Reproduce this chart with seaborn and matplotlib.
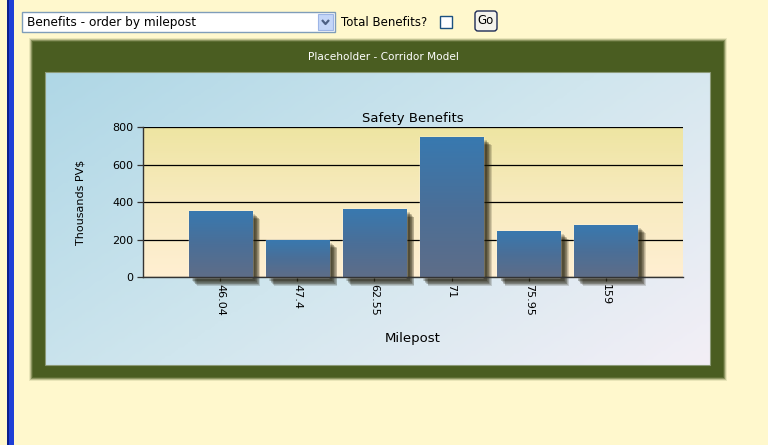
import matplotlib
matplotlib.use("Agg")
import matplotlib.pyplot as plt
import matplotlib.patheffects as pe
from matplotlib.colors import LinearSegmentedColormap
from matplotlib.patches import Rectangle, FancyBboxPatch
import seaborn as sns
import numpy as np
import pandas as pd

# data
mileposts = ["46.04", "47.4", "62.55", "71", "75.95", "159"]
benefits = [355, 200, 365, 750, 247, 280]
y_ticks = [0, 200, 400, 600, 800]

sns.set_style("white")
plt.rcParams["font.family"] = ["DejaVu Sans"]

W, H = 768, 445
fig = plt.figure(figsize=(W / 100, H / 100), dpi=100)
fig.patch.set_facecolor("#FFF8CD")

# page layer in pixel coordinates
bg = fig.add_axes([0, 0, 1, 1], zorder=0)
bg.set_xlim(0, W)
bg.set_ylim(H, 0)
bg.axis("off")

# left blue bar
bg.add_patch(Rectangle((7, 0), 7, H, color="#1E3FD6", lw=0))
bg.add_patch(Rectangle((7, 0), 1.5, H, color="#0A1E8C", lw=0))

# dropdown
bg.add_patch(Rectangle((22, 12), 313, 20, facecolor="white", edgecolor="#7F9DB9", lw=1))
bg.add_patch(Rectangle((318, 14), 15, 16, facecolor="#C4D6F8", edgecolor="#9DB5E6", lw=0.8))
bg.plot([322, 325.5, 329], [20, 24, 20], color="#4D6185", lw=1.6, solid_capstyle="butt")
bg.text(27, 22.5, "Benefits - order by milepost", fontsize=8.7, va="center", ha="left", color="black")
bg.text(341, 23, "Total Benefits?", fontsize=8.5, va="center", ha="left", color="black")
bg.add_patch(Rectangle((440, 16), 12, 12, facecolor="white", edgecolor="#1C5180", lw=1))
bg.add_patch(FancyBboxPatch((475, 11), 22, 20, boxstyle="round,pad=0,rounding_size=3",
                            facecolor="#F4F3EC", edgecolor="#1D2A55", lw=1))
bg.text(486, 20.5, "Go", fontsize=8.5, va="center", ha="center", color="black")

# green panel with soft edge
for k, a in [(4, 0.12), (3, 0.25), (2, 0.45), (1, 0.7)]:
    bg.add_patch(Rectangle((33 - k, 42 - k), 690 + 2 * k, 335 + 2 * k,
                           color="#4A5D21", lw=0, alpha=a))
bg.add_patch(Rectangle((33, 42), 690, 335, color="#4A5D21", lw=0))
bg.text(383, 57, "Placeholder - Corridor Model", fontsize=7.6, color="white", ha="center", va="center")

# inner light-blue panel gradient
gx, gy = np.meshgrid(np.linspace(0, 1, 200), np.linspace(0, 1, 100))
t = 0.6 * gx + 0.4 * gy
panel_cmap = LinearSegmentedColormap.from_list("panel", ["#AFD7E6", "#D0E6EE", "#F3EFF6"])
bg.imshow(t, extent=[45, 710, 365, 72], cmap=panel_cmap, aspect="auto", zorder=1)
bg.add_patch(Rectangle((45, 72), 665, 293, fill=False, edgecolor="#8C9A78", lw=0.8, zorder=1.5))
bg.set_xlim(0, W)
bg.set_ylim(H, 0)

# chart axes
ax = fig.add_axes([143 / W, (H - 277.3) / H, 540 / W, 150 / H], zorder=2)
ax.set_facecolor("none")

df = pd.DataFrame({"Milepost": mileposts, "Benefit": benefits})
sns.barplot(data=df, x="Milepost", y="Benefit", order=mileposts, color="#3F73A6",
            width=0.82, ax=ax, saturation=1)

# plot-area gradient
area_cmap = LinearSegmentedColormap.from_list("area", ["#FFEFD2", "#F8EBC0", "#EEE5A2"])
ax.imshow(np.linspace(0, 1, 100).reshape(-1, 1), extent=[-1, 6, 0, 800], origin="lower",
          cmap=area_cmap, aspect="auto", zorder=0)

# bar gradient and soft drop shadow
bar_cmap = LinearSegmentedColormap.from_list("bar", ["#5E6D88", "#4A6F98", "#3879B0"])
shadow = [pe.SimplePatchShadow(offset=(k, -k), shadow_rgbFace="#1E1A08", alpha=0.16)
          for k in np.arange(2.5, 6.01, 0.5)]
for p in ax.patches:
    p.set_zorder(2)
    p.set_clip_on(False)
    p.set_path_effects(shadow + [pe.Normal()])
    x0, w, h = p.get_x(), p.get_width(), p.get_height()
    im = ax.imshow(np.linspace(0, 1, 100).reshape(-1, 1), extent=[x0, x0 + w, 0, h],
                   origin="lower", cmap=bar_cmap, aspect="auto", zorder=2.1)
    im.set_clip_path(p)

ax.set_xlim(-1, 6)
ax.set_ylim(0, 800)
ax.set_yticks(y_ticks)
ax.yaxis.grid(True, color="black", lw=0.9)
ax.set_axisbelow(True)
for s in ["top", "right"]:
    ax.spines[s].set_visible(False)
for s in ["left", "bottom"]:
    ax.spines[s].set_color("#333333")
    ax.spines[s].set_linewidth(1)
    ax.spines[s].set_zorder(3)

ax.tick_params(axis="y", left=True, length=4, width=0.9, color="#333333", pad=3,
               labelsize=8, labelcolor="black")
ax.tick_params(axis="x", bottom=True, length=3, width=0.9, color="#333333", pad=2,
               labelsize=8, labelcolor="black")
for lbl in ax.get_xticklabels():
    lbl.set_rotation(-90)
    lbl.set_va("top")
    lbl.set_ha("center")

ax.set_title("Safety Benefits", fontsize=9.5, pad=4, color="black")
ax.set_ylabel("Thousands PV$", fontsize=8, color="black")
ax.yaxis.set_label_coords(-0.107, 0.5)
ax.set_xlabel("Milepost", fontsize=9.5, color="black")
ax.xaxis.label.set_va("center")
ax.xaxis.set_label_coords(0.5, -0.41)

fig.savefig("out.png", dpi=100, facecolor=fig.get_facecolor())
